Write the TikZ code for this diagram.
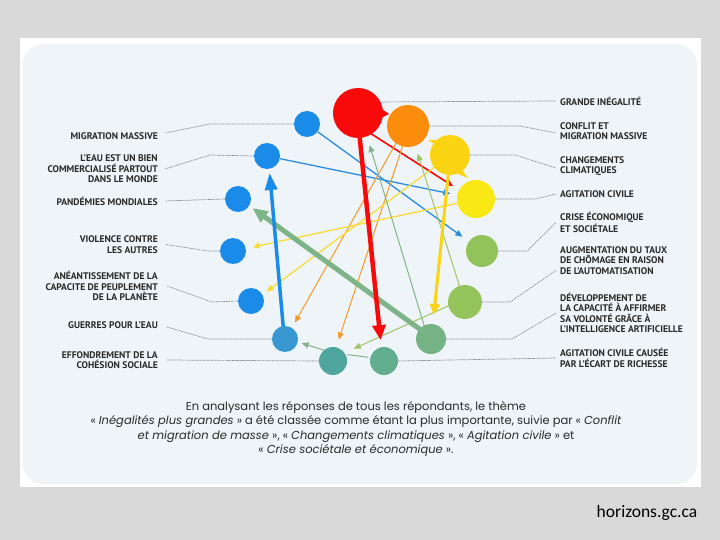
\documentclass[tikz,border=0pt]{standalone}
\usepackage{fontspec}
\setmainfont{Poppins}
\newfontfamily\labfont{PT Sans}
\newfontfamily\urlfont{Carlito}
\usetikzlibrary{arrows.meta}
\pgfdeclarelayer{back}
\pgfdeclarelayer{links}
\pgfsetlayers{back,links,main}
\definecolor{outergray}{HTML}{D9D9D9}
\definecolor{panel}{HTML}{EEF4F7}
\definecolor{labtext}{HTML}{2A2A2A}
\definecolor{leadgray}{HTML}{8A8E92}
\definecolor{cred}{HTML}{F80A0A}
\definecolor{corange}{HTML}{FB8C0C}
\definecolor{cgold}{HTML}{FAD412}
\definecolor{cyellow}{HTML}{F9E813}
\definecolor{clgreenA}{HTML}{92C35B}
\definecolor{clgreenB}{HTML}{96C45C}
\definecolor{cgreen}{HTML}{76B384}
\definecolor{cgteal}{HTML}{63AE8F}
\definecolor{cteal}{HTML}{4EA69F}
\definecolor{cblueB}{HTML}{3896D1}
\definecolor{cblue}{HTML}{1A8BE8}
\definecolor{tblue}{HTML}{2A8DE0}
\definecolor{torange}{HTML}{F39A2A}
\definecolor{tyellow}{HTML}{F7DC3A}
\definecolor{tgreen}{HTML}{84B38B}
\definecolor{tlgreen}{HTML}{A0C46A}
\definecolor{thgreen}{HTML}{7DB488}
\tikzset{
 circ/.style={circle, inner sep=0pt, minimum size=#1},
 lab/.style={font=\labfont\bfseries\fontsize{9.6}{10.4}\selectfont, text=labtext, inner sep=0pt},
 labL/.style={lab, align=right, anchor=east},
 labR/.style={lab, align=left, anchor=west},
 leader/.style={draw=leadgray, line width=0.7pt, dash pattern=on 1.6pt off 0.9pt},
 thinarr/.style={line width=1.3pt, -{Triangle[length=7pt,width=6pt]}},
 thickarr/.style={-{Triangle[length=15pt,width=13pt]}},
}
\begin{document}
\begin{tikzpicture}[x=1pt,y=-1pt]
\begin{pgfonlayer}{back}
\fill[outergray] (0,0) rectangle (720,540);
\fill[white] (20,38) rectangle (701,487);
\fill[panel, rounded corners=20pt] (23,44) rectangle (697,484);
\end{pgfonlayer}

% circles
\node[circ=50pt, fill=cred] (ineg) at (358,113) {};
\fill[cred] (379,107) -- (389,114) -- (379,119) -- cycle;
\node[circ=42pt, fill=corange] (conf) at (408,126) {};
\node[circ=40pt, fill=cgold] (clim) at (450,155) {};
\fill[cgold] (436,140) -- (428,140) -- (441,148) -- cycle;
\fill[cgold] (462,170) -- (468,178) -- (458,174) -- cycle;
\node[circ=38pt, fill=cyellow] (agit) at (476,199) {};
\node[circ=32pt, fill=clgreenA] (crise) at (482,251) {};
\node[circ=34pt, fill=clgreenB] (chom) at (465,302) {};
\node[circ=30pt, fill=cgreen] (ia) at (431,339) {};
\node[circ=28pt, fill=cgteal] (rich) at (384,361) {};
\node[circ=28pt, fill=cteal] (effo) at (333,361) {};
\node[circ=26pt, fill=cblueB] (guer) at (285,339) {};
\node[circ=26pt, fill=cblue] (anea) at (251,301) {};
\node[circ=26pt, fill=cblue] (viol) at (233,251) {};
\node[circ=26pt, fill=cblue] (pand) at (238,199) {};
\node[circ=26pt, fill=cblue] (eau) at (267,156) {};
\node[circ=26pt, fill=cblue] (migr) at (307,124) {};

% labels left
\node[labL] (lmigr) at (158,136) {MIGRATION MASSIVE};
\node[labL] (leau) at (158,169) {L’EAU EST UN BIEN\\COMMERCIALISÉ PARTOUT\\DANS LE MONDE};
\node[labL] (lpand) at (158,201) {PANDÉMIES MONDIALES};
\node[labL] (lviol) at (158,244.5) {VIOLENCE CONTRE\\LES AUTRES};
\node[labL] (lanea) at (158,286) {ANÉANTISSEMENT DE LA\\CAPACITE DE PEUPLEMENT\\DE LA PLANÈTE};
\node[labL] (lguer) at (158,325) {GUERRES POUR L’EAU};
\node[labL] (leffo) at (158,360) {EFFONDREMENT DE LA\\COHÉSION SOCIALE};
% labels right
\node[labR] (lineg) at (560,101) {GRANDE INÉGALITÉ};
\node[labR] (lconf) at (560,131) {CONFLIT ET\\MIGRATION MASSIVE};
\node[labR] (lclim) at (560,166) {CHANGEMENTS\\CLIMATIQUES};
\node[labR] (lagit) at (560,194) {AGITATION CIVILE};
\node[labR] (lcrise) at (560,222.5) {CRISE ÉCONOMIQUE\\ET SOCIÉTALE};
\node[labR] (lchom) at (560,260.5) {AUGMENTATION DU TAUX\\DE CHÔMAGE EN RAISON\\DE L’AUTOMATISATION};
\node[labR] (lia) at (560,313) {DÉVELOPPEMENT DE\\LA CAPACITÉ À AFFIRMER\\SA VOLONTÉ GRÂCE À\\L’INTELLIGENCE ARTIFICIELLE};
\node[labR] (lrich) at (560,358) {AGITATION CIVILE CAUSÉE\\PAR L’ÉCART DE RICHESSE};

\begin{pgfonlayer}{links}
% leaders
\draw[leader] (migr.west) -- (210,124) -- ([xshift=7pt,yshift=3pt]lmigr.east);
\draw[leader] (eau.west) -- (210,155) -- ([xshift=7pt]leau.east);
\draw[leader] (pand.west) -- ([xshift=7pt]lpand.east);
\draw[leader] (viol.west) -- (208,251) -- ([xshift=8pt]lviol.east);
\draw[leader] (anea.west) -- (212,302) -- ([xshift=9pt]lanea.east);
\draw[leader] (guer.west) -- (208,339) -- ([xshift=9pt,yshift=-2pt]lguer.east);
\draw[leader] (effo.west) -- ([xshift=8pt]leffo.east);
\draw[leader] (ineg.26) -- ([xshift=-4pt]lineg.west);
\draw[leader] (conf.east) -- (520,126) -- ([xshift=-4pt,yshift=-2pt]lconf.west);
\draw[leader] (clim.east) -- (515,155) -- ([xshift=-4pt,yshift=-2pt]lclim.west);
\draw[leader] (agit.east) -- (535,199) -- ([xshift=-4pt]lagit.west);
\draw[leader] (crise.east) -- (527,251) -- ([xshift=-4pt]lcrise.west);
\draw[leader] (chom.east) -- (510,302) -- ([xshift=-4pt,yshift=-10pt]lchom.west);
\draw[leader] (ia.east) -- (512,339) -- ([xshift=-4pt]lia.west);
\draw[leader] (rich.east) -- ([xshift=-4pt]lrich.west);

% thin connectors
\draw[thinarr, tblue, shorten >=8pt] (migr) -- (crise);
\draw[thinarr, tblue, shorten >=7pt] (eau) -- (agit);
\draw[thinarr, cred, line width=1.6pt, shorten <=-4pt, shorten >=7pt] (ineg.-57) -- (agit.152);
\draw[thinarr, torange, line width=1pt, shorten <=-4pt, shorten >=6pt] (conf.-125) -- (guer.58);
\draw[thinarr, torange, line width=1pt, shorten <=-1pt, shorten >=8pt] (conf.-105) -- (effo.77);
\draw[thinarr, tyellow, shorten <=-2pt, shorten >=7pt] (agit.-167) -- (viol.11);
\draw[thinarr, tyellow, shorten <=-2pt, shorten >=5pt] (clim.-142) -- (anea.29);
\draw[thinarr, tgreen, line width=1pt, shorten <=-2pt, shorten >=9pt] (ia.117) -- (ineg.-69);
\draw[thinarr, tlgreen, line width=1pt, shorten <=-4pt, shorten >=8pt] (chom.109) -- (conf.-70);
\draw[thinarr, tlgreen, line width=1pt, shorten <=-1pt, shorten >=10pt] (chom.-167) -- (effo.35);
\draw[thinarr, tgreen, line width=1pt, shorten <=-3pt, shorten >=4pt] (effo.130) -- (guer.-13);
\draw[tgreen, line width=1pt, shorten <=2pt, shorten >=2pt] (rich.166) -- (effo.28);

% thick connectors
\draw[thickarr, cgold, line width=3pt, -{Triangle[length=11pt,width=10pt]}, shorten <=-4pt, shorten >=9pt] (clim.-95) -- (ia.83);
\draw[thickarr, thgreen, line width=5pt, shorten <=-3pt, shorten >=4pt] (ia.139) -- (pand.-31);
\draw[thickarr, cblue, line width=3.5pt, -{Triangle[length=17pt,width=12pt]}, shorten <=-1pt, shorten >=4pt] (guer.98) -- (eau.-80);
\draw[thickarr, cred, line width=4.5pt, shorten <=-4pt, shorten >=7pt] (ineg.-86) -- (rich.101);
\end{pgfonlayer}

% caption
\node[align=center, font=\fontsize{11.5}{14.3}\selectfont, text=labtext, inner sep=0pt] (cap) at (356,429)
 {En analysant les réponses de tous les répondants, le thème\\
 « \textit{Inégalités plus grandes} » a été classée comme étant la plus importante, suivie par « \textit{Conflit}\\
 \textit{et migration de masse} », « \textit{Changements climatiques} », « \textit{Agitation civile} » et\\
 « \textit{Crise sociétale et économique} ».};

\node[font=\urlfont\fontsize{17.5}{20}\selectfont, anchor=base, inner sep=0pt] (url) at (647,517) {horizons.gc.ca};
\end{tikzpicture}
\end{document}
